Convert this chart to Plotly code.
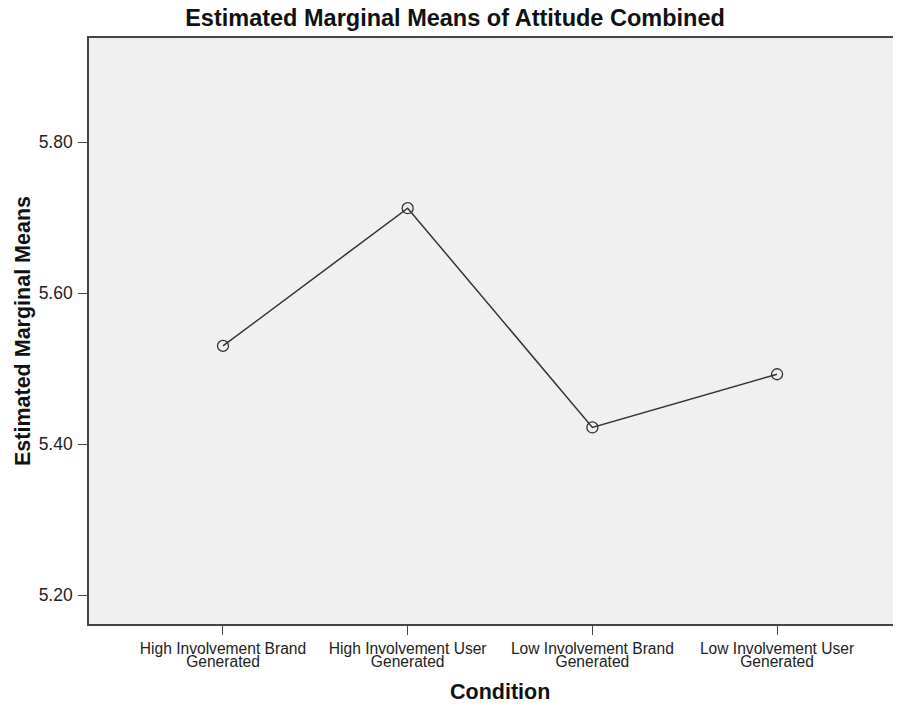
import plotly.graph_objects as go

# Condition labels, split into the two printed lines
cat_line1 = [
    "High Involvement Brand",
    "High Involvement User",
    "Low Involvement Brand",
    "Low Involvement User",
]
cat_line2 = ["Generated", "Generated", "Generated", "Generated"]
means = [5.530, 5.7125, 5.422, 5.4925]
y_ticks = [5.20, 5.40, 5.60, 5.80]

positions = list(range(len(cat_line1)))

FONT = "Liberation Sans, Arial, sans-serif"
INK = "#222222"

# the page has an 8px body margin; offset the layout to compensate
OFF = 8
W, H = 901 - OFF, 707 - OFF
PLOT_L, PLOT_T, PLOT_B = 89, 38, 624          # page pixels
L = PLOT_L - OFF
T = PLOT_T - OFF
B = H - (PLOT_B - OFF)
X_RANGE = [-0.7255, 3.671]
DOM_W = (W + OFF) - PLOT_L
DOM_H = PLOT_B - PLOT_T

fig = go.Figure()
fig.add_trace(go.Scatter(
    x=positions, y=means, mode="lines+markers",
    line=dict(color="#333333", width=1.5),
    marker=dict(symbol="circle-open", size=11, color="#333333", line=dict(width=1.3)),
    showlegend=False, cliponaxis=False,
))
# invisible trace so the second label row (xaxis2) is drawn
fig.add_trace(go.Scatter(x=positions, y=means, xaxis="x2", mode="none",
                         showlegend=False, hoverinfo="skip"))

fig.update_layout(
    width=W, height=H,
    margin=dict(l=L, r=0, t=T, b=B),
    paper_bgcolor="white",
    plot_bgcolor="#f0f0f0",
    font=dict(family=FONT, color=INK),
    title=dict(text="<b>Estimated Marginal Means of Attitude Combined</b>",
               x=(455 - OFF) / W, xanchor="center", y=1 - (18 - OFF) / H, yanchor="middle",
               font=dict(size=23.5, family=FONT, color="#111111")),
    xaxis=dict(range=X_RANGE, tickvals=positions, ticktext=cat_line1,
               showgrid=False, zeroline=False,
               showline=True, linecolor="#444444", linewidth=1.6, mirror=True,
               ticks="outside", ticklen=9, tickwidth=1.3, tickcolor="#444444",
               tickfont=dict(size=15.6, family=FONT, color=INK)),
    xaxis2=dict(range=X_RANGE, tickvals=positions, ticktext=cat_line2,
                overlaying="x", anchor="y", side="bottom",
                showgrid=False, zeroline=False, showline=False,
                ticks="outside", ticklen=9, tickcolor="rgba(0,0,0,0)",
                ticklabelstandoff=14,
                tickfont=dict(size=15.6, family=FONT, color=INK)),
    yaxis=dict(range=[5.1616, 5.938], tickvals=y_ticks, tickformat=".2f",
               showgrid=False, zeroline=False,
               showline=True, linecolor="#444444", linewidth=1.6,
               ticks="outside", ticklen=9, tickwidth=1.3, tickcolor="#444444",
               ticklabelstandoff=2,
               tickfont=dict(size=17.5, family=FONT, color=INK)),
    annotations=[
        dict(text="<b>Condition</b>", xref="paper", yref="paper",
             x=(500 - PLOT_L) / DOM_W, y=-(692 - PLOT_B) / DOM_H,
             xanchor="center", yanchor="middle",
             showarrow=False, font=dict(size=21.5, family=FONT, color="#111111")),
        dict(text="<b>Estimated Marginal Means</b>", xref="paper", yref="paper",
             x=-(PLOT_L - 23) / DOM_W, y=0.5, xanchor="center", yanchor="middle",
             textangle=-90, showarrow=False,
             font=dict(size=21.5, family=FONT, color="#111111")),
    ],
)

fig.write_html("out.html")
